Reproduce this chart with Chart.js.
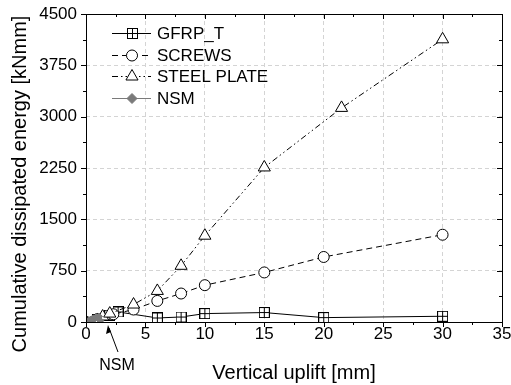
<!DOCTYPE html>
<html>
<head>
<meta charset="utf-8">
<script src="https://cdn.jsdelivr.net/npm/chart.js@4"></script>
<style>
  body { margin: 0; background: #ffffff; }
  #wrap { width: 511px; height: 385px; }
</style>
</head>
<body>
<div id="wrap"><canvas id="chart"></canvas></div>
<script>
// values
var gfrpX = [0, 1, 2, 2.7, 6, 8, 10, 15, 20, 30]
var gfrpY = [0, 40, 100, 147, 59, 73, 123, 138, 64, 84]
var screwsX = [0, 1, 2.3, 4, 6, 8, 10, 15, 20, 30]
var screwsY = [0, 45, 113, 182, 308, 416, 538, 724, 950, 1275]
var steelX = [0, 1.4, 2, 4, 6, 8, 10, 15, 21.5, 30]
var steelY = [0, 80, 123, 255, 454, 821, 1261, 2258, 3128, 4130]
var nsmX = [0, 0.1, 0.2, 0.3, 0.4, 0.5, 0.6, 0.7, 0.8, 0.9, 1.0, 1.1, 1.2]
var nsmY = [0, 8, 18, 25, 35, 40, 50, 45, 62, 70, 58, 80, 20]
var xTicks = [0, 5, 10, 15, 20, 25, 30, 35]
var yTicks = [0, 750, 1500, 2250, 3000, 3750, 4500]

var FONT = "'Liberation Sans', Arial, sans-serif"

function points(xs, ys) {
  var out = []
  for (var i = 0; i < xs.length; i++) out.push({ x: xs[i], y: ys[i] })
  return out
}

function crossSquare() {
  var c = document.createElement("canvas")
  c.width = 11
  c.height = 11
  var g = c.getContext("2d")
  g.fillStyle = "#ffffff"
  g.fillRect(0, 0, 11, 11)
  g.strokeStyle = "#000000"
  g.lineWidth = 1
  g.strokeRect(0.5, 0.5, 10, 10)
  g.beginPath()
  g.moveTo(5.5, 0.5); g.lineTo(5.5, 10.5)
  g.moveTo(0.5, 5.5); g.lineTo(10.5, 5.5)
  g.stroke()
  return c
}
var squareImg = crossSquare()

var series = [
  { label: "GFRP_T", data: points(gfrpX, gfrpY), borderColor: "#000000", borderWidth: 1,
    borderDash: [], pointStyle: squareImg, pointRadius: 5.5, backgroundColor: "#ffffff", pointBorderColor: "#000000" },
  { label: "SCREWS", data: points(screwsX, screwsY), borderColor: "#000000", borderWidth: 1,
    borderDash: [6, 4], pointStyle: "circle", pointRadius: 5.5, backgroundColor: "#ffffff", pointBorderColor: "#000000" },
  { label: "STEEL PLATE", data: points(steelX, steelY), borderColor: "#000000", borderWidth: 1,
    borderDash: [6, 3, 1.5, 3, 1.5, 3], pointStyle: "triangle", pointRadius: 7, backgroundColor: "#ffffff", pointBorderColor: "#000000" },
  { label: "NSM", data: points(nsmX, nsmY), borderColor: "#7a7a7a", borderWidth: 1,
    borderDash: [], pointStyle: "rectRot", pointRadius: 3.5, backgroundColor: "#7a7a7a", pointBorderColor: "#7a7a7a" }
]

var datasets = series.map(function (s) {
  return {
    label: s.label,
    data: s.data,
    borderColor: s.borderColor,
    borderWidth: s.borderWidth,
    borderDash: s.borderDash,
    pointStyle: s.pointStyle,
    pointRadius: s.pointRadius,
    pointBackgroundColor: s.backgroundColor,
    pointBorderColor: s.pointBorderColor,
    pointBorderWidth: 1,
    tension: 0,
    fill: false
  }
})
// draw NSM first so the others sit on top
datasets.reverse()

// frame, ticks, legend, y title and the NSM callout
var decorations = {
  id: "decorations",
  afterDraw: function (chart) {
    var ctx = chart.ctx
    var a = chart.chartArea
    var xs = chart.scales.x
    var ys = chart.scales.y
    ctx.save()
    ctx.strokeStyle = "#000000"
    ctx.lineWidth = 1
    ctx.strokeRect(Math.round(a.left) + 0.5, Math.round(a.top) + 0.5,
      Math.round(a.right - a.left), Math.round(a.bottom - a.top))

    ctx.beginPath()
    for (var v = 0; v <= 35; v += 2.5) {
      var px = Math.round(xs.getPixelForValue(v)) + 0.5
      var major = v % 5 === 0
      var len = major ? 5 : 3
      ctx.moveTo(px, a.bottom); ctx.lineTo(px, a.bottom + len)
      ctx.moveTo(px, a.top); ctx.lineTo(px, a.top + len)
    }
    for (var w = 0; w <= 4500; w += 375) {
      var py = Math.round(ys.getPixelForValue(w)) + 0.5
      var maj = w % 750 === 0
      var l = maj ? 5 : 3
      ctx.moveTo(a.left, py); ctx.lineTo(a.left - l, py)
      ctx.moveTo(a.right, py); ctx.lineTo(a.right - l, py)
    }
    ctx.stroke()

    // legend
    var rows = [33, 55, 76, 98]
    ctx.font = "17px " + FONT
    ctx.textBaseline = "middle"
    ctx.textAlign = "left"
    for (var i = 0; i < series.length; i++) {
      var s = series[i]
      var y = rows[i] + 0.5
      ctx.save()
      ctx.strokeStyle = s.borderColor
      ctx.setLineDash(s.borderDash)
      ctx.beginPath()
      ctx.moveTo(112, y); ctx.lineTo(151, y)
      ctx.stroke()
      ctx.restore()
      ctx.save()
      ctx.fillStyle = s.backgroundColor
      ctx.strokeStyle = s.pointBorderColor
      ctx.lineWidth = 1
      if (s.pointStyle === squareImg) {
        ctx.drawImage(squareImg, 127, rows[i] - 5)
      } else {
        Chart.helpers.drawPoint(ctx, {
          pointStyle: s.pointStyle, radius: s.label === "NSM" ? 5 : s.pointRadius, rotation: 0, borderWidth: 1
        }, 132, y)
      }
      ctx.restore()
      ctx.fillStyle = "#000000"
      ctx.fillText(s.label, 157, rows[i] + 1)
    }

    // y axis title
    ctx.save()
    ctx.translate(20, 184)
    ctx.rotate(-Math.PI / 2)
    ctx.font = "20px " + FONT
    ctx.textAlign = "center"
    ctx.fillStyle = "#000000"
    ctx.fillText("Cumulative dissipated energy [kNmm]", 0, 0)
    ctx.restore()

    // NSM callout under the axis
    ctx.strokeStyle = "#000000"
    ctx.fillStyle = "#000000"
    ctx.beginPath()
    ctx.moveTo(118, 352); ctx.lineTo(109, 328)
    ctx.stroke()
    ctx.beginPath()
    ctx.moveTo(108, 325); ctx.lineTo(106, 334); ctx.lineTo(111, 332); ctx.closePath()
    ctx.fill()
    ctx.font = "16px " + FONT
    ctx.textAlign = "center"
    ctx.fillText("NSM", 117, 366)
    ctx.restore()
  }
}

function plain(value) { return String(value) }

new Chart(document.getElementById("chart"), {
  type: "line",
  data: { datasets: datasets },
  plugins: [decorations],
  options: {
    responsive: true,
    maintainAspectRatio: false,
    animation: false,
    layout: { padding: { top: 14, right: 9, left: 0, bottom: 0 } },
    plugins: { legend: { display: false }, tooltip: { enabled: false } },
    scales: {
      x: {
        type: "linear",
        min: 0,
        max: 35,
        afterBuildTicks: function (scale) { scale.ticks = xTicks.map(function (v) { return { value: v } }) },
        afterFit: function (scale) {
          scale.height = 63
          scale.paddingLeft = 0
          scale.paddingRight = 0
        },
        grid: { color: "#d4d4d4", lineWidth: 1, drawTicks: false },
        border: { display: false, dash: [4, 3] },
        ticks: { color: "#000000", font: { family: FONT, size: 17 }, padding: 2, maxRotation: 0, callback: plain },
        title: { display: true, text: "Vertical uplift [mm]", color: "#000000",
          font: { family: FONT, size: 20 }, padding: { top: 4, bottom: 0 } }
      },
      y: {
        type: "linear",
        min: 0,
        max: 4500,
        afterBuildTicks: function (scale) { scale.ticks = yTicks.map(function (v) { return { value: v } }) },
        afterFit: function (scale) {
          scale.width = 86
          scale.paddingTop = 0
          scale.paddingBottom = 0
        },
        grid: { color: "#d4d4d4", lineWidth: 1, drawTicks: false },
        border: { display: false, dash: [4, 3] },
        ticks: { color: "#000000", font: { family: FONT, size: 17 }, padding: 9, callback: plain },
        title: { display: false }
      }
    }
  }
})
</script>
</body>
</html>
